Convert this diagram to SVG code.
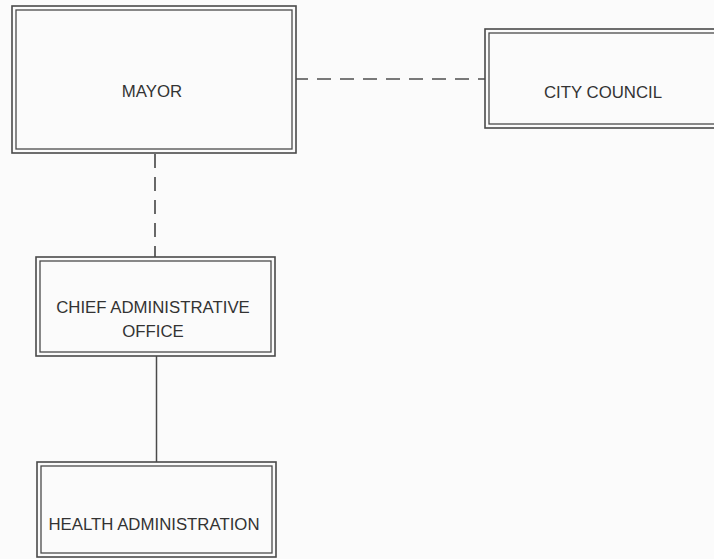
<svg xmlns="http://www.w3.org/2000/svg" width="714" height="559" viewBox="0 0 714 559">
  <style>
    .outer { fill: none; stroke: #4a4a4a; stroke-width: 1.6; }
    .inner { fill: none; stroke: #4a4a4a; stroke-width: 1.3; }
    .label { font-family: "Liberation Sans", Arial, sans-serif; font-size: 16.8px; fill: #333333; text-anchor: middle; }
    .dash { stroke: #4f4f4f; stroke-width: 1.7; fill: none; stroke-dasharray: 14 9; }
    .solid { stroke: #4a4a4a; stroke-width: 1.5; fill: none; }
  </style>
  <rect x="0" y="0" width="714" height="559" fill="#fbfbfb"/>
  <g id="connectors">
    <line class="dash" x1="296" y1="79" x2="485" y2="79" stroke-dashoffset="2"/>
    <line class="dash" x1="155" y1="153" x2="155" y2="257" stroke-dashoffset="-1"/>
    <line class="solid" x1="156.5" y1="356" x2="156.5" y2="462"/>
  </g>
  <g id="mayor">
    <rect class="outer" x="12" y="6" width="284" height="147"/>
    <rect class="inner" x="16" y="10" width="276" height="139"/>
    <text class="label" x="152" y="97">MAYOR</text>
  </g>
  <g id="city-council">
    <rect class="outer" x="485" y="29" width="240" height="99"/>
    <rect class="inner" x="489" y="33" width="232" height="91"/>
    <text class="label" x="603" y="98">CITY COUNCIL</text>
  </g>
  <g id="chief-administrative-office">
    <rect class="outer" x="36" y="257" width="239" height="99"/>
    <rect class="inner" x="40" y="261" width="231" height="91"/>
    <text class="label" x="153" y="313">CHIEF ADMINISTRATIVE</text>
    <text class="label" x="153" y="337">OFFICE</text>
  </g>
  <g id="health-administration">
    <rect class="outer" x="37" y="462" width="239" height="95"/>
    <rect class="inner" x="41" y="466" width="231" height="87"/>
    <text class="label" x="154" y="530">HEALTH ADMINISTRATION</text>
  </g>
</svg>
